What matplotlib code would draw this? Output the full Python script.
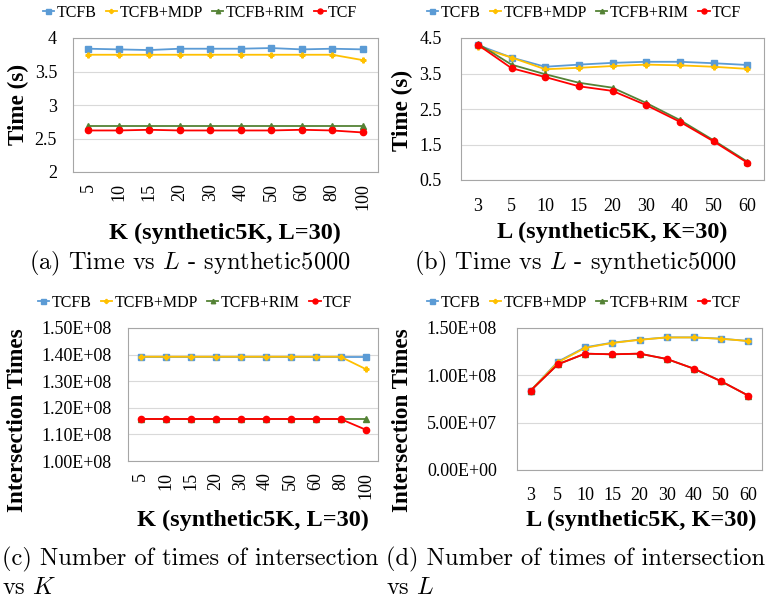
import numpy as np
import matplotlib
matplotlib.use("Agg")
import matplotlib.pyplot as plt
from matplotlib.font_manager import FontProperties

plt.rcParams['mathtext.fontset'] = 'cm'

# ---- data ----
k_labels = ['5', '10', '15', '20', '30', '40', '50', '60', '80', '100']
l_labels = ['3', '5', '10', '15', '20', '30', '40', '50', '60']

# (a) time vs K
time_k_tcfb = [3.84, 3.83, 3.82, 3.84, 3.84, 3.84, 3.85, 3.83, 3.84, 3.83]
time_k_mdp = [3.75, 3.75, 3.75, 3.75, 3.75, 3.75, 3.75, 3.75, 3.75, 3.67]
time_k_rim = [2.69, 2.69, 2.69, 2.69, 2.69, 2.69, 2.69, 2.69, 2.69, 2.69]
time_k_tcf = [2.62, 2.62, 2.63, 2.62, 2.62, 2.62, 2.62, 2.63, 2.62, 2.59]

# (b) time vs L
time_l_tcfb = [4.30, 3.95, 3.69, 3.75, 3.80, 3.83, 3.83, 3.79, 3.74]
time_l_mdp = [4.25, 3.95, 3.62, 3.66, 3.71, 3.75, 3.73, 3.69, 3.63]
time_l_rim = [4.34, 3.75, 3.48, 3.24, 3.10, 2.67, 2.19, 1.62, 1.02]
time_l_tcf = [4.31, 3.65, 3.40, 3.14, 3.01, 2.61, 2.14, 1.59, 0.99]

# (c) intersections vs K
inter_k_tcfb = [1.392e8] * 10
inter_k_mdp = [1.392e8] * 9 + [1.346e8]
inter_k_rim = [1.158e8] * 10
inter_k_tcf = [1.158e8] * 9 + [1.118e8]

# (d) intersections vs L
inter_l_tcfb = [0.838e8, 1.144e8, 1.296e8, 1.345e8, 1.377e8, 1.401e8, 1.401e8, 1.387e8, 1.363e8]
inter_l_mdp = [0.838e8, 1.137e8, 1.290e8, 1.342e8, 1.375e8, 1.400e8, 1.400e8, 1.386e8, 1.362e8]
inter_l_rim = [0.838e8, 1.116e8, 1.229e8, 1.222e8, 1.229e8, 1.173e8, 1.070e8, 0.937e8, 0.785e8]
inter_l_tcf = [0.838e8, 1.116e8, 1.229e8, 1.222e8, 1.229e8, 1.173e8, 1.070e8, 0.937e8, 0.785e8]

names = ['TCFB', 'TCFB+MDP', 'TCFB+RIM', 'TCF']
colors = ['#5B9BD5', '#FFC000', '#548235', '#FF0000']
markers = ['s', 'P', '^', 'o']
msizes = [4.5, 3.5, 4, 4.5]

W, H = 768, 601
fig = plt.figure(figsize=(W / 100, H / 100), dpi=100)

SERIF = 'Liberation Serif'
PT = 0.72  # points per pixel at dpi 100


def px_axes(l, r, t, b):
    return fig.add_axes([l / W, 1 - b / H, (r - l) / W, (b - t) / H])


def draw(ax, labels, series, ylim, yticks, yfmt, rot, ypad, xpad):
    x = np.arange(len(labels))
    handles = []
    for s, c, m, ms, n in zip(series, colors, markers, msizes, names):
        h, = ax.plot(x, s, color=c, marker=m, markersize=ms, lw=1.3, label=n)
        handles.append(h)
    ax.set_xlim(-0.5, len(labels) - 0.5)
    ax.set_ylim(*ylim)
    ax.set_yticks(yticks)
    ax.set_yticklabels([yfmt(v) for v in yticks], fontfamily=SERIF, fontsize=13)
    ax.set_xticks(x)
    ax.set_xticklabels(labels, rotation=rot, fontfamily=SERIF, fontsize=13)
    ax.tick_params(axis='y', length=0, pad=ypad * PT)
    ax.tick_params(axis='x', length=0, pad=xpad * PT)
    ax.grid(axis='y', color='#D9D9D9', lw=0.8)
    ax.set_axisbelow(True)
    for sp in ax.spines.values():
        sp.set_color('#A6A6A6')
        sp.set_linewidth(0.8)
    return handles


def legend(handles, cx, cy):
    fp = FontProperties(family=SERIF, size=11.5)
    leg = fig.legend(handles=handles, loc='center', bbox_to_anchor=(cx / W, 1 - cy / H),
                     ncol=4, frameon=False, handlelength=0.7, handletextpad=0.15,
                     columnspacing=0.6, borderpad=0, markerscale=0.8, prop=fp)
    plt.setp(leg.get_texts(), fontfamily=SERIF, fontsize=11.5)


def sci(v):
    if v == 0:
        return '0.00E+00'
    e = int(np.floor(np.log10(v)))
    return '%.2fE+%02d' % (v / 10 ** e, e)


def ylabel(text, x, y):
    fig.text(x / W, 1 - y / H, text, rotation=90, ha='center', va='center',
             fontfamily=SERIF, fontweight='bold', fontsize=16.7)


def xlabel(text, x, y):
    fig.text(x / W, 1 - y / H, text, ha='center', va='center',
             fontfamily=SERIF, fontweight='bold', fontsize=17.5)


def caption(text, x, y, ha='center'):
    fig.text(x / W, 1 - y / H, text, ha=ha, va='center', fontfamily='cmr10', fontsize=17.6)


# (a)
ax = px_axes(73, 378, 38, 172)
hs = draw(ax, k_labels, [time_k_tcfb, time_k_mdp, time_k_rim, time_k_tcf],
          (2, 4), [2, 2.5, 3, 3.5, 4], lambda v: '%g' % v, 90, 16, 11)
legend(hs, 200, 13)
ylabel('Time (s)', 18, 104)
xlabel('K (synthetic5K, L=30)', 225, 233)
caption('(a) Time vs $L$ - synthetic5000', 190, 263)

# (b)
ax = px_axes(461, 764, 38, 180)
hs = draw(ax, l_labels, [time_l_tcfb, time_l_mdp, time_l_rim, time_l_tcf],
          (0.5, 4.5), [0.5, 1.5, 2.5, 3.5, 4.5], lambda v: '%g' % v, 0, 19, 18)
legend(hs, 584, 13)
ylabel('Time (s)', 402, 110)
xlabel('L (synthetic5K, K=30)', 612, 232)
caption('(b) Time vs $L$ - synthetic5000', 576, 263)

# (c)
ax = px_axes(128, 378, 328, 461)
hs = draw(ax, k_labels, [inter_k_tcfb, inter_k_mdp, inter_k_rim, inter_k_tcf],
          (1.0e8, 1.5e8), [1.0e8, 1.1e8, 1.2e8, 1.3e8, 1.4e8, 1.5e8], sci, 90, 16, 11)
legend(hs, 195, 303)
ylabel('Intersection Times', 18, 420)
xlabel('K (synthetic5K, L=30)', 253, 520)
caption('(c) Number of times of intersection', 2, 559, ha='left')
caption('vs $K$', 2, 588, ha='left')

# (d)
ax = px_axes(517, 762, 328, 470)
hs = draw(ax, l_labels, [inter_l_tcfb, inter_l_mdp, inter_l_rim, inter_l_tcf],
          (0, 1.5e8), [0, 0.5e8, 1.0e8, 1.5e8], sci, 0, 20, 17)
legend(hs, 584, 303)
ylabel('Intersection Times', 402, 420)
xlabel('L (synthetic5K, K=30)', 641, 520)
caption('(d) Number of times of intersection', 386, 559, ha='left')
caption('vs $L$', 386, 588, ha='left')

fig.savefig('out.png', dpi=100)
